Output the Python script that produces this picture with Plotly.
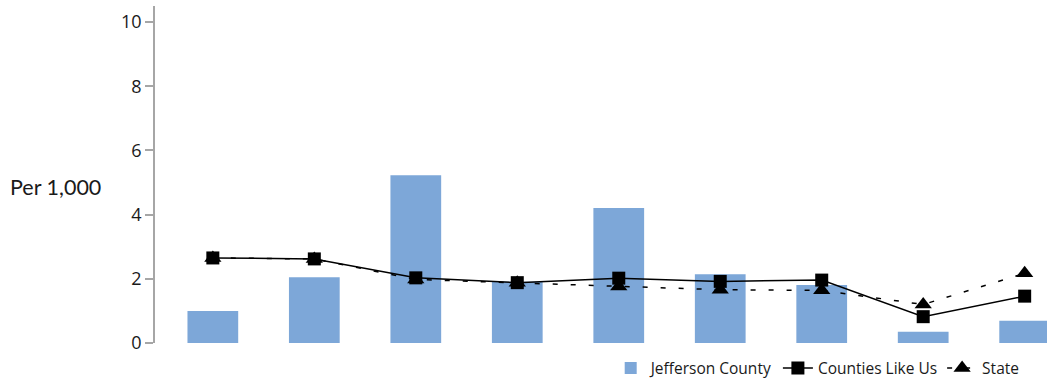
import plotly.graph_objects as go

# values (per 1,000)
categories = ["A", "B", "C", "D", "E", "F", "G", "H", "I"]
jefferson = [1.0, 2.05, 5.23, 1.91, 4.21, 2.14, 1.81, 0.35, 0.69]
counties_like_us = [2.65, 2.62, 2.03, 1.88, 2.02, 1.92, 1.96, 0.82, 1.46]
state = [2.65, 2.62, 1.98, 1.88, 1.76, 1.66, 1.64, 1.2, 2.17]

fig = go.Figure()

fig.add_trace(go.Bar(
    x=categories, y=jefferson, name="Jefferson County",
    marker=dict(color="#7da7d8", line=dict(width=0)),
    width=0.5,
))
fig.add_trace(go.Scatter(
    x=categories, y=counties_like_us, name="Counties Like Us",
    mode="lines+markers",
    line=dict(color="black", width=1.5),
    marker=dict(symbol="square", size=13, color="black"),
))
fig.add_trace(go.Scatter(
    x=categories, y=state, name="State",
    mode="lines+markers",
    line=dict(color="black", width=1.5, dash="5px,13px"),
    marker=dict(symbol="triangle-up", size=15, color="black"),
))

fig.update_layout(
    width=1047, height=386,
    margin=dict(l=155, r=0, t=6, b=43),
    plot_bgcolor="white", paper_bgcolor="white",
    font=dict(family="Open Sans", size=16, color="#1a1a1a"),
    showlegend=True,
    legend=dict(
        orientation="h", x=0.975, xanchor="right", y=-0.025, yanchor="top",
        font=dict(size=15.5, color="#1a1a1a"),
        traceorder="normal",
    ),
)

fig.update_xaxes(
    range=[-0.57, 8.22], showticklabels=False, showline=False,
    showgrid=False, zeroline=False, ticks="",
)
fig.update_yaxes(
    range=[0, 10.5], tickvals=[0, 2, 4, 6, 8, 10],
    showline=True, linecolor="#a6a6a6", linewidth=1.5,
    ticks="outside", ticklen=8, tickcolor="#a6a6a6", tickwidth=1.5,
    showgrid=False, zeroline=False,
    tickfont=dict(size=18, color="#1a1a1a"),
)

fig.add_annotation(
    text="Per 1,000", xref="paper", yref="paper",
    x=(8 - 155) / 892, xanchor="left", y=0.463, yanchor="middle",
    showarrow=False, font=dict(family="Lato", size=21.5, color="#1a1a1a"),
)

fig.write_html(
    "out.html",
    config={"displayModeBar": False},
    post_script="document.body.style.margin='0';",
)
